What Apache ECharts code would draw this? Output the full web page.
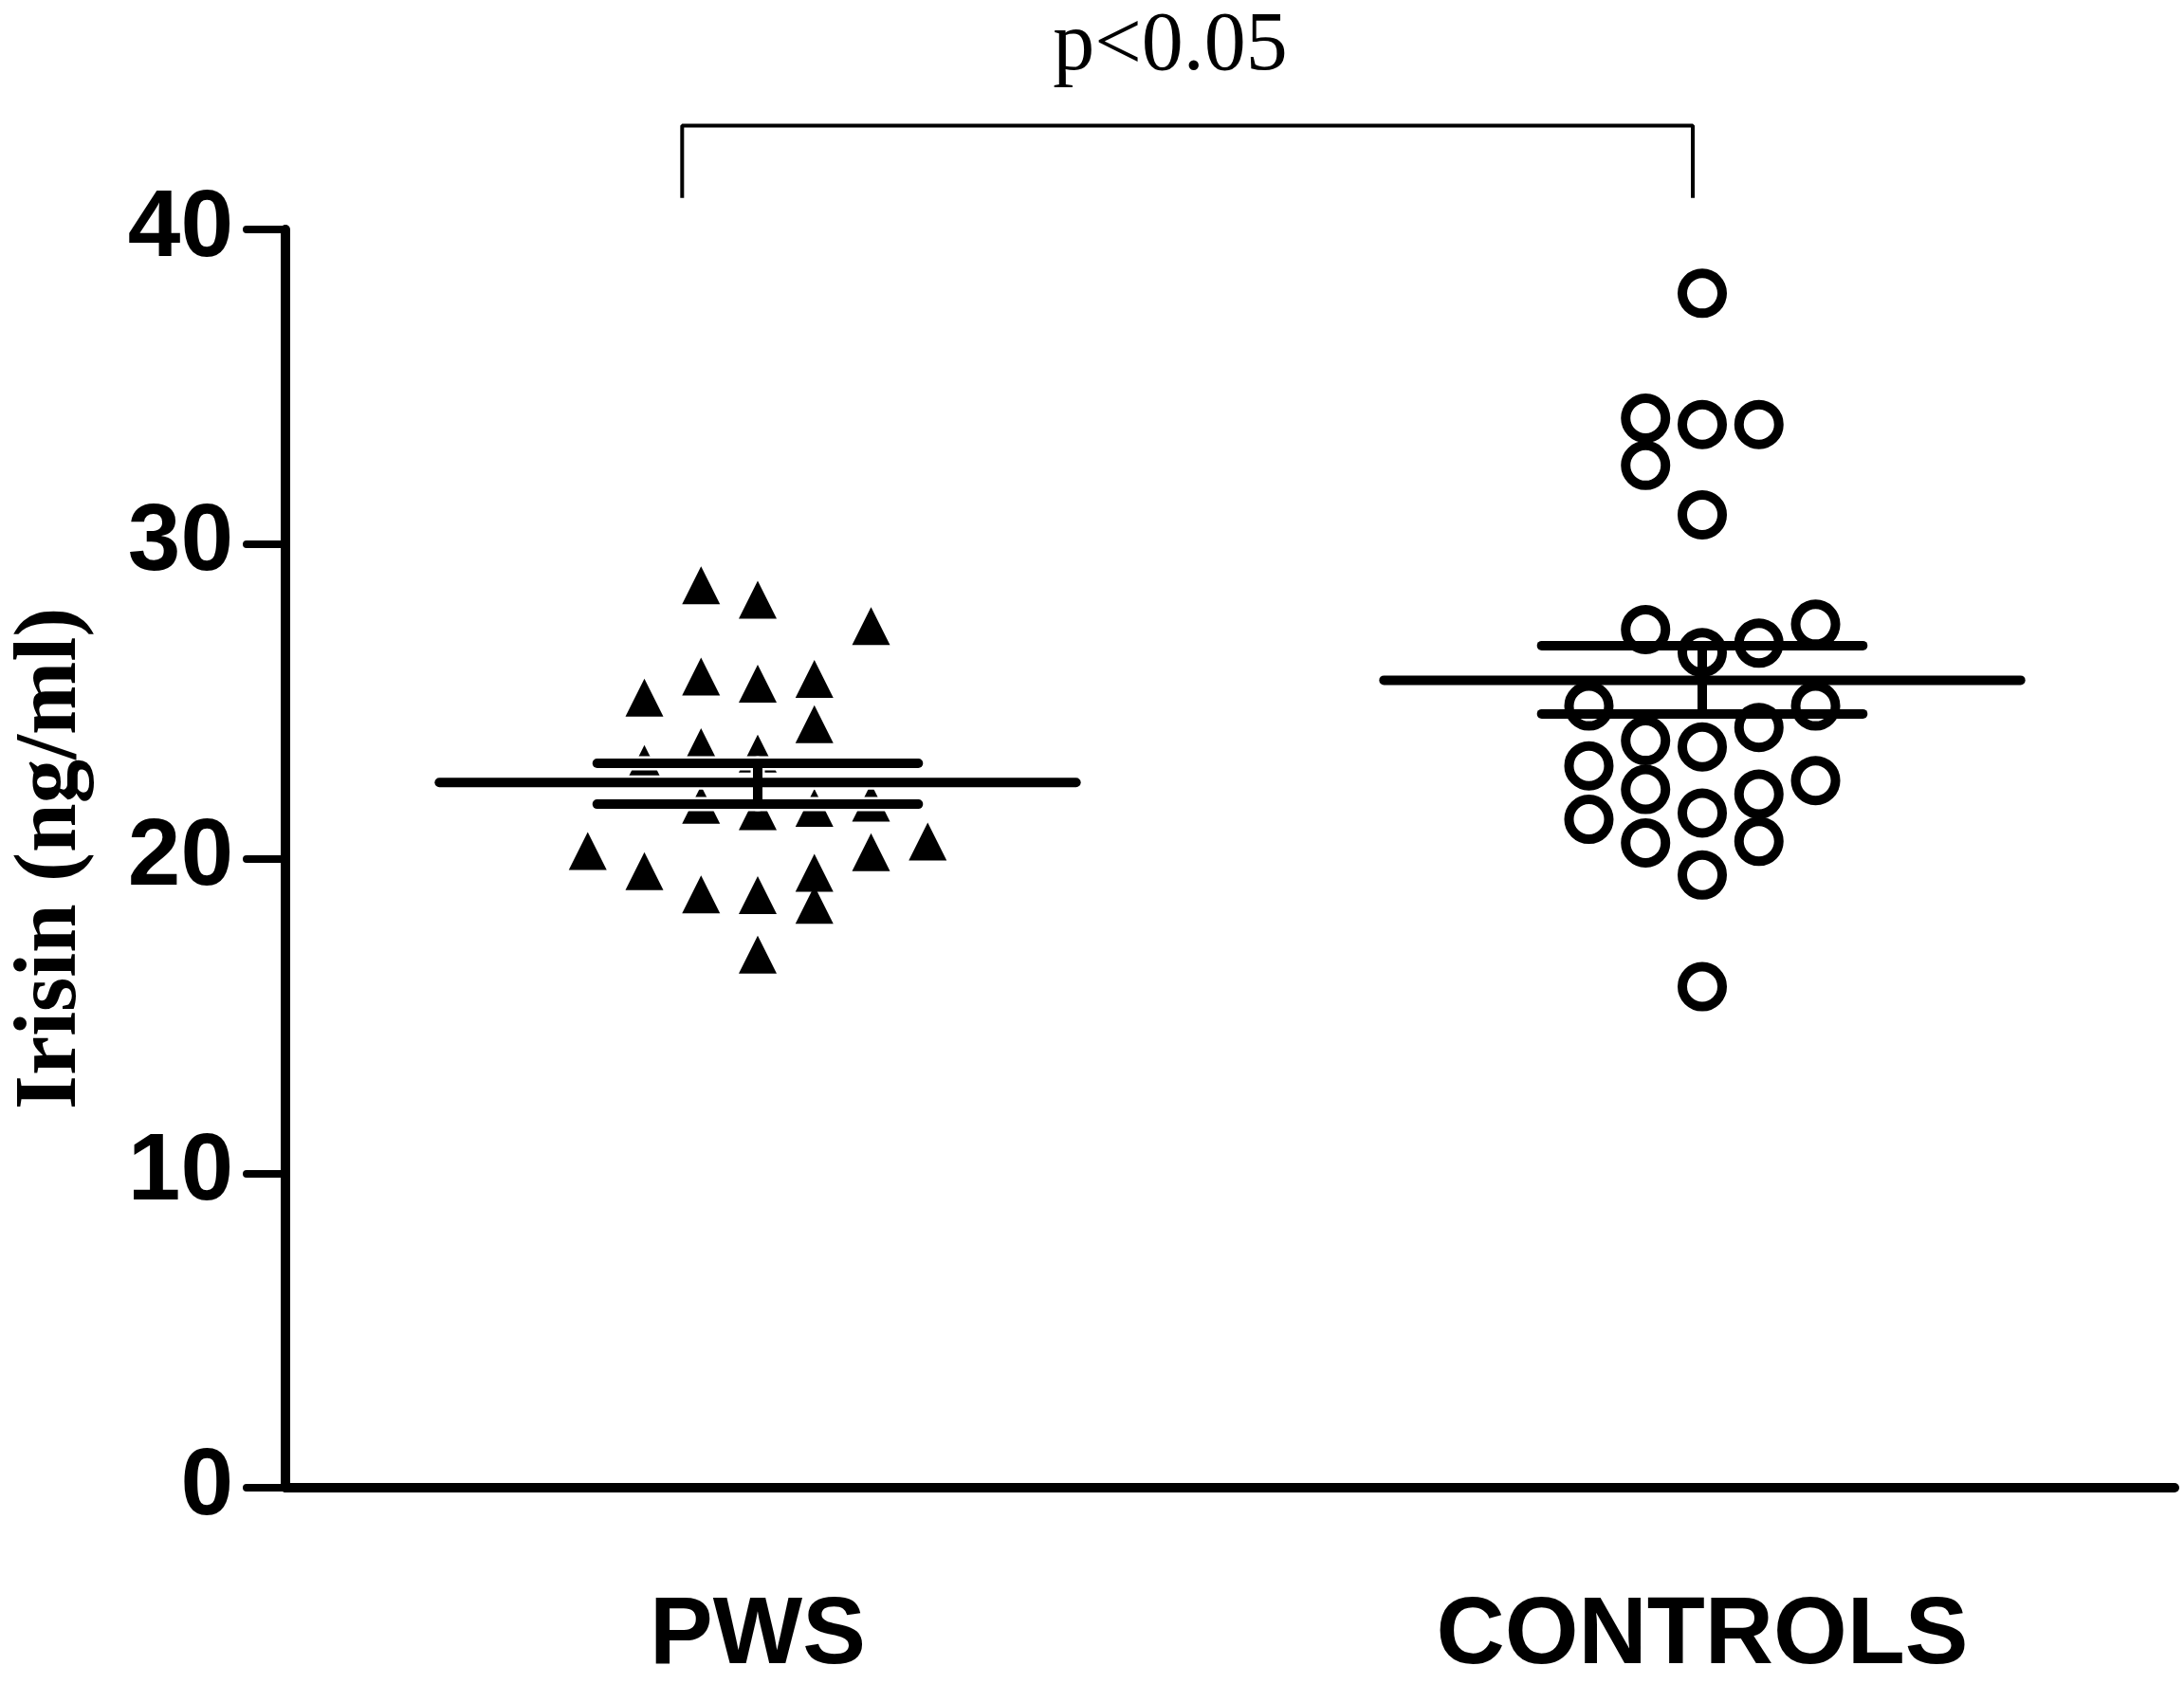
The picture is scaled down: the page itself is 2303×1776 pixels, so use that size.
<!DOCTYPE html>
<html><head><meta charset="utf-8">
<script src="https://cdn.jsdelivr.net/npm/echarts@6/dist/echarts.min.js"></script>
<style>html,body{margin:0;padding:0;background:#fff}#c{width:2303px;height:1776px}</style>
</head><body><div id="c"></div>
<script>
const groups = ['PWS', 'CONTROLS'];
const yTicks = [0, 10, 20, 30, 40];
const pwsValues = [28.69, 28.23, 27.39, 25.79, 25.56, 25.71, 25.12, 24.27, 23.54, 23.34, 23.01, 21.71, 21.51, 21.61, 21.78, 20.24, 20.20, 20.54, 19.60, 19.55, 18.86, 18.84, 18.53, 16.95];
const pwsCols = [-1, 0, 2, -1, 0, 1, -2, 1, -1, 0, -2, -1, 0, 1, 2, -3, 2, 3, -2, 1, -1, 0, 1, 0];
const controlsValues = [37.97, 34.00, 33.80, 33.80, 32.50, 30.93, 27.28, 27.45, 26.85, 26.55, 24.85, 24.85, 24.17, 23.75, 23.55, 22.95, 22.48, 22.20, 22.05, 21.25, 21.45, 20.50, 20.55, 19.48, 15.93];
const controlsCols = [0, -1, 0, 1, -1, 0, -1, 2, 1, 0, -2, 2, 1, -1, 0, -2, 2, -1, 1, -2, 0, -1, 1, 0, 0];
const means = [22.42, 25.67];
const semUpper = [23.03, 26.77];
const semLower = [21.73, 24.60];
const pLabel = 'p<0.05';
const bracketX = [-0.08, -0.08, 0.99, 0.99];
const bracketY = [41.0, 43.3, 43.3, 41.0];

const colStep = 0.06, meanHalf = 0.337, semHalf = 0.17;

const chart = echarts.init(document.getElementById('c'), null, {renderer: 'canvas'});
const series = [];
series.push({
  type: 'scatter', xAxisIndex: 1, z: 2, symbol: 'triangle', symbolSize: 40,
  itemStyle: {color: '#000', opacity: 1},
  data: pwsValues.map((v, i) => [0 + pwsCols[i] * colStep, v])
});
series.push({
  type: 'scatter', xAxisIndex: 1, z: 2, symbol: 'circle', symbolSize: 42,
  itemStyle: {color: 'rgba(0,0,0,0)', borderColor: '#000', borderWidth: 10, opacity: 1},
  data: controlsValues.map((v, i) => [1 + controlsCols[i] * colStep, v])
});
function seg(data, w, color, z) {
  series.push({type: 'line', xAxisIndex: 1, z: z, showSymbol: false, symbol: 'none', silent: true,
    lineStyle: {width: w, color: color, cap: 'round'}, data: data});
}
groups.forEach((g, i) => {
  const segs = [
    [[i - meanHalf, means[i]], [i + meanHalf, means[i]]],
    [[i - semHalf, semUpper[i]], [i + semHalf, semUpper[i]]],
    [[i - semHalf, semLower[i]], [i + semHalf, semLower[i]]],
    [[i, semLower[i]], [i, semUpper[i]]]
  ];
  segs.forEach(s => {
    if (i === 0) seg(s, 15, '#fff', 3);
    seg(s, 10, '#000', 4);
  });
});
series.push({type: 'line', xAxisIndex: 1, clip: false, showSymbol: false, symbol: 'none', z: 4,
  lineStyle: {width: 4, color: '#000'}, data: bracketX.map((x, i) => [x, bracketY[i]])});

chart.setOption({
  animation: false,
  backgroundColor: '#fff',
  grid: {left: 288, right: 10, top: 242, bottom: 201},
  graphic: [{type: 'text', x: 1234, y: 50, style: {text: pLabel, fill: '#000',
    font: '88px "Liberation Serif"', textAlign: 'center', textVerticalAlign: 'middle'}}],
  xAxis: [{
    type: 'category', data: groups, boundaryGap: true,
    axisLine: {lineStyle: {color: '#000', width: 10, cap: 'round'}},
    axisTick: {alignWithLabel: true, length: 42, lineStyle: {color: '#000', width: 8, cap: 'round'}},
    axisLabel: {margin: 107, color: '#000', fontSize: 100, fontWeight: 'bold', fontFamily: 'Liberation Sans'},
    splitLine: {show: false}
  }, {
    type: 'value', min: -0.5, max: 1.5, show: false
  }],
  yAxis: {
    type: 'value', min: 0, max: 40, interval: 10,
    name: 'Irisin (ng/ml)', nameLocation: 'middle', nameGap: 200,
    nameTextStyle: {fontFamily: 'Liberation Serif', fontWeight: 'bold', fontSize: 93, color: '#000'},
    axisLine: {show: true, onZero: false, lineStyle: {color: '#000', width: 10, cap: 'round'}},
    axisTick: {show: true, length: 41, lineStyle: {color: '#000', width: 8, cap: 'round'}},
    axisLabel: {margin: 55, color: '#000', fontSize: 100, fontWeight: 'bold', fontFamily: 'Liberation Sans',
      formatter: v => yTicks.indexOf(v) >= 0 ? String(v) : ''},
    splitLine: {show: false}
  },
  series: series
});
</script></body></html>
